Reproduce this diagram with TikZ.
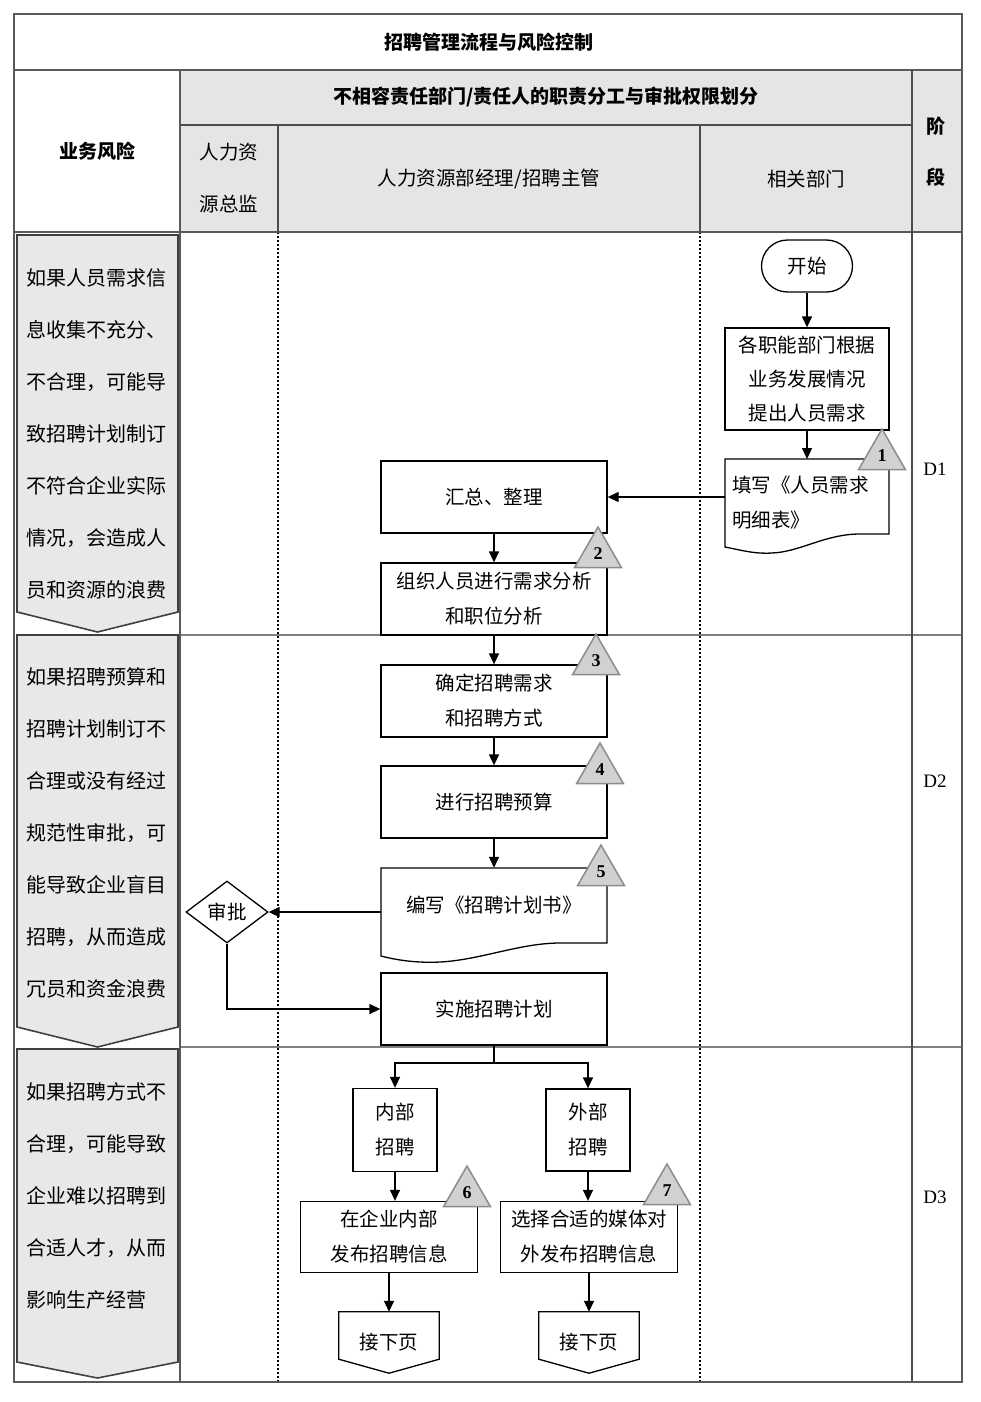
\documentclass[tikz,border=0pt]{standalone}
\usepackage{fontspec}
\setmainfont{Liberation Serif}
\newfontfamily\cjk{Noto Sans CJK SC}
\newfontfamily\lat{Liberation Serif}
\usetikzlibrary{shapes.geometric,arrows.meta}
\tikzset{
  frame/.style={draw=black!65,line width=1.6pt},
  box/.style={draw,line width=1.3pt,minimum width=226pt,minimum height=72pt,align=center,inner sep=0pt},
  flow/.style={line width=1.3pt,-{Triangle[length=11pt,width=10pt]}},
  tri/.style={regular polygon,regular polygon sides=3,minimum size=54pt,inner sep=0pt,draw=black!45,fill=black!18,line width=1.5pt,font=\lat\bfseries\fontsize{18}{18}\selectfont},
  risk/.style={draw=black!75,fill=black!9,line width=1.6pt},
  riskt/.style={anchor=base west,align=left,inner sep=0pt,font=\cjk\fontsize{20}{52}\selectfont},
  headb/.style={font=\cjk\bfseries\fontsize{19}{19}\selectfont},
  dotline/.style={line width=2pt,dash pattern=on 2pt off 2pt}
}
\begin{document}
\begin{tikzpicture}[x=1pt,y=-1pt,every node/.style={font=\cjk\fontsize{19.5}{35}\selectfont}]
\useasboundingbox (0,0) rectangle (981,1402);
\fill[black!10] (180,70) rectangle (962,232);
\draw[gray,line width=1.5pt] (180,635) -- (962,635);
\draw[gray,line width=1.5pt] (180,1047) -- (962,1047);
\draw[dotline] (278,232) -- (278,1382);
\draw[dotline] (700,232) -- (700,1382);
\draw[frame] (14,14) rectangle (962,1382);
\draw[frame] (14,70) -- (962,70);
\draw[frame] (14,232) -- (962,232);
\draw[frame] (180,70) -- (180,1382);
\draw[draw=black!70,line width=1.2pt] (912,70) -- (912,1382);
\draw[draw=black!70,line width=1.2pt] (180,125) -- (912,125);
\draw[draw=black!70,line width=1.2pt] (278,125) -- (278,232);
\draw[draw=black!70,line width=1.2pt] (700,125) -- (700,232);

\node[headb] (title) at (489,42) {招聘管理流程与风险控制};
\node[headb] (risk) at (97,151) {业务风险};
\node[headb] (duty) at (546,97) {不相容责任部门/责任人的职责分工与审批权限划分};
\node[align=center] (hrd) at (229,178) {人力资\\[17pt]源总监};
\node (hrm) at (489,179) {人力资源部经理/招聘主管};
\node (dept) at (806,179) {相关部门};
\node[headb,align=center] (stage) at (936,152) {阶\\[32pt]段};

\draw[risk] (17,235) -- (178,235) -- (178,612) -- (97.5,632) -- (17,612) -- cycle;
\draw[risk] (17,635) -- (178,635) -- (178,1027) -- (97.5,1047) -- (17,1027) -- cycle;
\draw[risk] (17,1049) -- (178,1049) -- (178,1362) -- (97.5,1378) -- (17,1362) -- cycle;
\node[riskt] (risk1) at (26,597) {如果人员需求信\\息收集不充分、\\不合理，可能导\\致招聘计划制订\\不符合企业实际\\情况，会造成人\\员和资源的浪费};
\node[riskt] (risk2) at (26,996) {如果招聘预算和\\招聘计划制订不\\合理或没有经过\\规范性审批，可\\能导致企业盲目\\招聘，从而造成\\冗员和资金浪费};
\node[riskt] (risk3) at (26,1307) {如果招聘方式不\\合理，可能导致\\企业难以招聘到\\合适人才，从而\\影响生产经营};

\node[draw,line width=1.3pt,rounded corners=26pt,minimum width=91pt,minimum height=52pt] (start) at (807,266) {开始};
\node[box,minimum width=164pt,minimum height=102pt,font=\cjk\fontsize{19.5}{34}\selectfont] (req) at (807,379) {各职能部门根据\\业务发展情况\\提出人员需求};
\node[align=left,text width=150pt,inner sep=7pt,minimum height=75pt] (doc1) at (807,502.5) {填写《人员需求\\明细表》};
\coordinate (doc1top) at (807,459);
\draw[line width=1.3pt] (889,534) -- (889,459) -- (725,459) -- (725,547) .. controls (745,551) and (755,554) .. (772,553) .. controls (800,552) and (825,534) .. (860,534) -- cycle;
\node[box] (sum) at (494,497) {汇总、整理};
\node[box] (ana) at (494,599) {组织人员进行需求分析\\和职位分析};
\node[box] (conf) at (494,701) {确定招聘需求\\和招聘方式};
\node[box] (bud) at (494,802) {进行招聘预算};
\node[minimum width=226pt,minimum height=75pt,inner sep=0pt] (doc2) at (494,905.5) {编写《招聘计划书》};
\draw[line width=1.3pt] (607,943) -- (607,868) -- (381,868) -- (381,956) .. controls (400,961) and (420,963) .. (440,962) .. controls (480,960) and (520,943) .. (560,943) -- cycle;
\node[draw,line width=1.3pt,diamond,aspect=1.3,minimum width=82pt,minimum height=62pt,inner sep=0pt] (app) at (227,912) {审批};
\node[box] (impl) at (494,1009) {实施招聘计划};
\node[box,minimum width=84pt,minimum height=83pt] (int) at (395,1130) {内部\\招聘};
\node[box,minimum width=84pt,minimum height=82pt] (ext) at (588,1130) {外部\\招聘};
\node[box,minimum width=177pt,minimum height=71pt] (intpub) at (389,1237) {在企业内部\\发布招聘信息};
\node[box,minimum width=177pt,minimum height=71pt] (extpub) at (589,1237) {选择合适的媒体对\\外发布招聘信息};
\node[minimum width=100pt,minimum height=61pt,inner sep=0pt] (next1) at (389,1342.5) {接下页};
\node[minimum width=100pt,minimum height=61pt,inner sep=0pt] (next2) at (589,1342.5) {接下页};
\foreach \n in {next1,next2}
  \draw[line width=1.3pt] (\n.north west) -- (\n.north east) -- ([yshift=14pt]\n.south east) -- (\n.south) -- ([yshift=14pt]\n.south west) -- cycle;

\draw[flow] (start) -- (req);
\draw[flow] (req.south) -- (doc1top);
\draw[flow] (doc1.west |- sum.east) -- (sum.east);
\draw[flow] (sum) -- (ana);
\draw[flow] (ana) -- (conf);
\draw[flow] (conf) -- (bud);
\draw[flow] (bud) -- (doc2.north);
\draw[flow] (doc2.west |- app.east) -- (app.east);
\draw[flow] (app.south) |- (impl.west);
\coordinate (split) at (494,1063);
\draw[line width=1.3pt] (impl.south) -- (split);
\draw[flow] (split) -| (int.north);
\draw[flow] (split) -| (ext.north);
\draw[flow] (int.south) -- (int.south |- intpub.north);
\draw[flow] (ext.south) -- (ext.south |- extpub.north);
\draw[flow] (intpub.south) -- (next1.north);
\draw[flow] (extpub.south) -- (next2.north);

\node[tri] (t1) at (882,456) {1};
\node[tri] (t2) at (598,554) {2};
\node[tri] (t3) at (596,661) {3};
\node[tri] (t4) at (600,770) {4};
\node[tri] (t5) at (601,872) {5};
\node[tri] (t6) at (467,1193) {6};
\node[tri] (t7) at (667,1191) {7};

\node[font=\lat\fontsize{19}{19}\selectfont] (d1) at (935,469) {D1};
\node[font=\lat\fontsize{19}{19}\selectfont] (d2) at (935,781) {D2};
\node[font=\lat\fontsize{19}{19}\selectfont] (d3) at (935,1197) {D3};
\end{tikzpicture}
\end{document}
